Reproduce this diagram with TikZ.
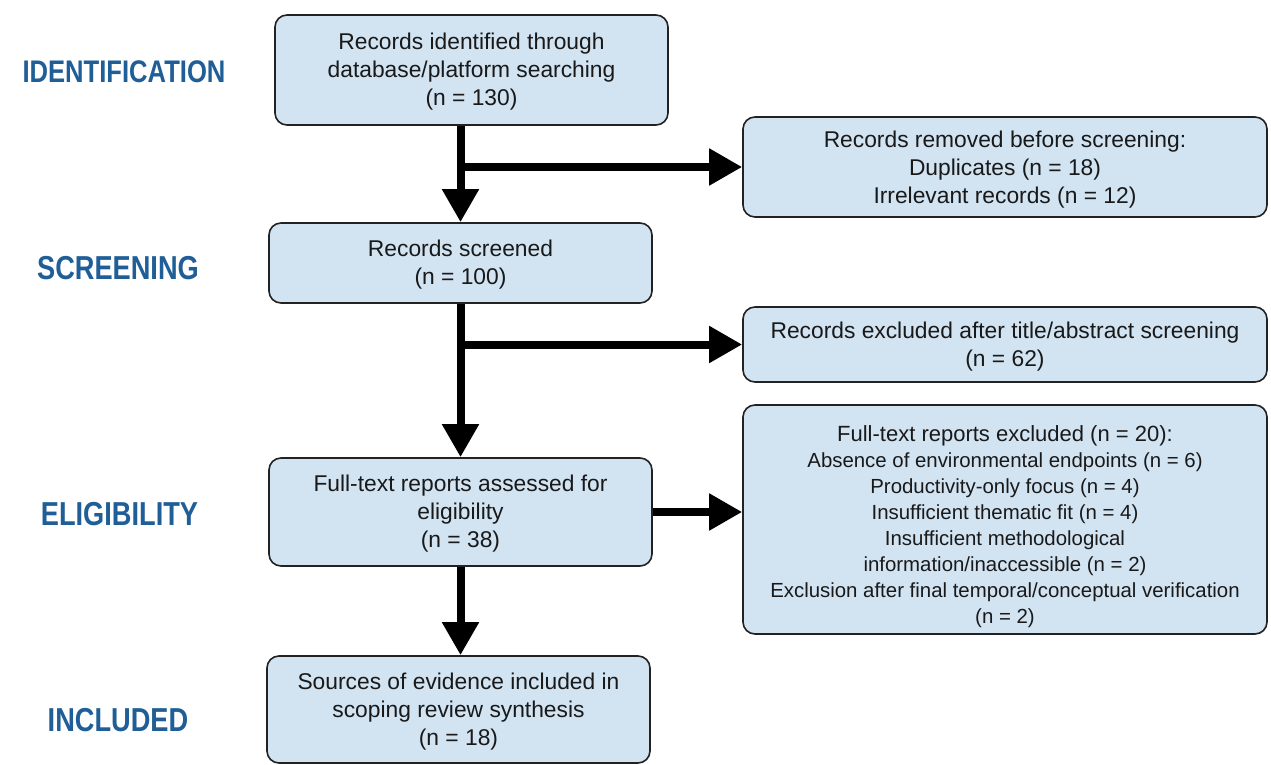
\documentclass[tikz,border=0pt]{standalone}
\usepackage{fontspec}
\setmainfont{Liberation Sans}
\usetikzlibrary{arrows.meta}
\definecolor{boxfill}{HTML}{D2E3F2}
\definecolor{labelblue}{HTML}{1F5E96}
\definecolor{boxline}{HTML}{222222}
\newcommand{\tallstage}[1]{\scalebox{1}[1.22]{#1}}
\begin{document}
\begin{tikzpicture}[x=0.5pt,y=-0.5pt,
 box/.style={draw=boxline, line width=0.8pt, fill=boxfill, rounded corners=6pt, align=center, inner sep=0pt, font=\fontsize{11.4}{14}\selectfont, text=black!90},
 arr/.style={line width=4pt, -{Triangle[length=16.5pt,width=17.5pt]}},
 stage/.style={font=\fontsize{13.6}{15}\selectfont\bfseries, text=labelblue, inner sep=0pt}]
\useasboundingbox (0,0) rectangle (1271,765);
\fill[white] (0,0) rectangle (1271,765);

% stage labels
\node[stage, font=\fontsize{12.8}{15}\selectfont\bfseries] (lid) at (124,72) {\tallstage{IDENTIFICATION}};
\node[stage] (lsc) at (118,268) {\tallstage{SCREENING}};
\node[stage] (lel) at (119.5,514) {\tallstage{ELIGIBILITY}};
\node[stage] (lin) at (118,720) {\tallstage{INCLUDED}};

% boxes
\node[box, minimum width=196.5pt, minimum height=55pt] (b1) at (471.5,70)
 {\rule{0pt}{10pt}Records identified through\\database/platform searching\\(n = 130)};
\node[box, minimum width=262pt, minimum height=50pt] (b2) at (1005,167)
 {\rule{0pt}{11pt}Records removed before screening:\\Duplicates (n = 18)\\Irrelevant records (n = 12)};
\node[box, minimum width=191.5pt, minimum height=40pt] (b3) at (460.5,263)
 {\rule{0pt}{10pt}Records screened\\(n = 100)};
\node[box, minimum width=262pt, minimum height=37.5pt] (b4) at (1005,344.5)
 {\rule{0pt}{10pt}Records excluded after title/abstract screening\\(n = 62)};
\node[box, minimum width=191.5pt, minimum height=54pt] (b5) at (460.5,512)
 {\rule{0pt}{10pt}Full-text reports assessed for\\eligibility\\(n = 38)};
\node[box, minimum width=262pt, minimum height=114.5pt, font=\fontsize{10.2}{13}\selectfont] (b6) at (1005,519.5)
 {\rule{0pt}{15.5pt}{\fontsize{11}{13}\selectfont Full-text reports excluded (n = 20):}\\
  Absence of environmental endpoints (n = 6)\\
  Productivity-only focus (n = 4)\\
  Insufficient thematic fit (n = 4)\\
  Insufficient methodological\\
  information/inaccessible (n = 2)\\
  Exclusion after final temporal/conceptual verification\\
  (n = 2)};
\node[box, minimum width=191.5pt, minimum height=53.5pt] (b7) at (458.5,709.5)
 {\rule{0pt}{10pt}Sources of evidence included in\\scoping review synthesis\\(n = 18)};

% connectors
\draw[arr] (b1.south -| b3.north) -- (b3.north);
\draw[arr] (b3.north |- b2.west) -- (b2.west);
\draw[arr] (b3.south) -- (b5.north);
\draw[arr] (b3.south |- b4.west) -- (b4.west);
\draw[arr] (b5.east) -- (b5.east -| b6.west);
\draw[arr] (b5.south) -- (b5.south |- b7.north);
\end{tikzpicture}
\end{document}
